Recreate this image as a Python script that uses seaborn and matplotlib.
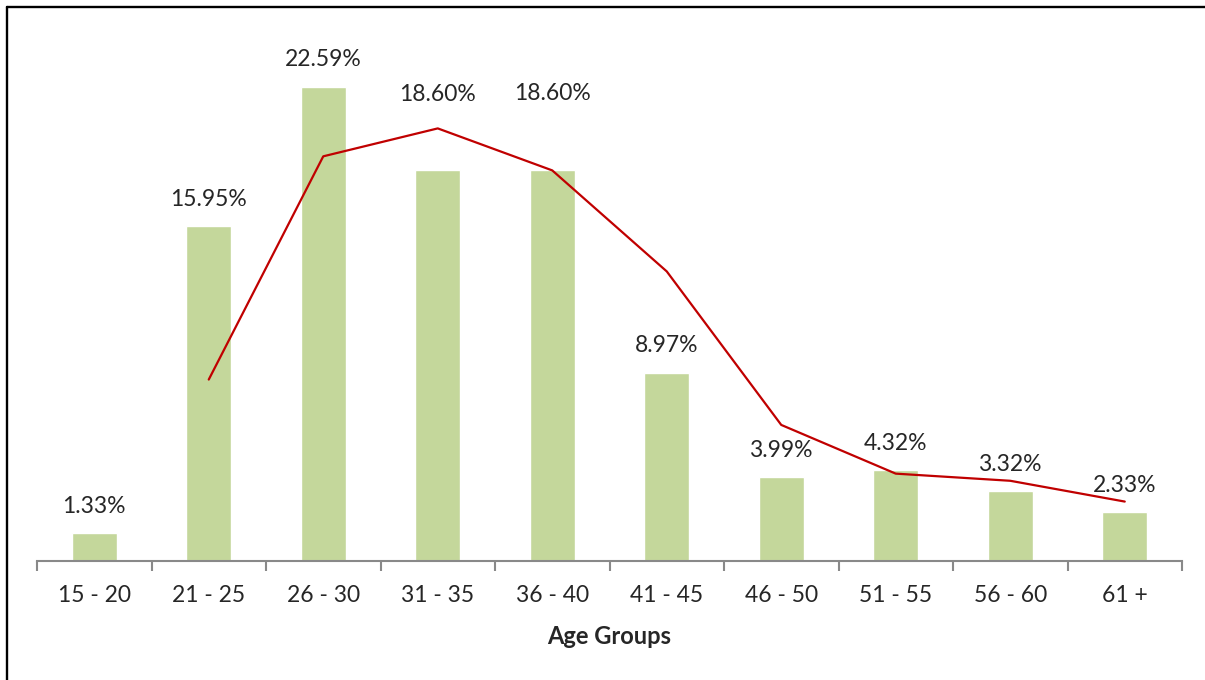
import seaborn as sns
import numpy as np
import matplotlib
matplotlib.use('Agg')
import matplotlib.pyplot as plt
from matplotlib.lines import Line2D

# data
age_groups = ['15 - 20', '21 - 25', '26 - 30', '31 - 35', '36 - 40',
              '41 - 45', '46 - 50', '51 - 55', '56 - 60', '61 +']
share = [1.33, 15.95, 22.59, 18.60, 18.60, 8.97, 3.99, 4.32, 3.32, 2.33]
# red trend line (2 period moving average)
trend = [8.64, 19.27, 20.60, 18.60, 13.79, 6.48, 4.16, 3.82, 2.83]

sns.set_style('white')
plt.rcParams['font.family'] = ['Lato', 'DejaVu Sans']

fig = plt.figure(figsize=(12.05, 6.8), dpi=100)
ax = fig.add_axes([37/1205, 119/680, 1145/1205, 523/680])

sns.barplot(x=np.arange(len(share)), y=share, color='#C4D79B', saturation=1,
            width=0.39, ax=ax, native_scale=True)
sns.lineplot(x=np.arange(1, len(share)), y=trend, color='#C00000', lw=1.6, ax=ax)

# labels above bars; the two 18.60% labels sit higher to clear the line
extra = {3: 49, 4: 50}
for i, v in enumerate(share):
    ax.annotate(f'{v:.2f}%', (i, v), xytext=(0, 27 + extra.get(i, 0)),
                textcoords='offset pixels', ha='center', va='center', fontsize=16.5)

ax.set_xlim(-0.5, len(share) - 0.5)
ax.set_ylim(0, 523/21)
ax.set_yticks([])
ax.set_xticks(np.arange(len(share)))
ax.set_xticklabels(age_groups, fontsize=16.5)
ax.set_xticks(np.arange(-0.5, len(share)), minor=True)
ax.tick_params(axis='x', which='major', bottom=True, length=0, pad=17)
ax.tick_params(axis='x', which='minor', bottom=True, length=7.5, width=1.5,
               color='#898989', direction='out')
ax.set_xlabel('Age Groups', fontsize=17, fontweight='bold', labelpad=14)
ax.set_ylabel(None)
sns.despine(ax=ax, left=True)
ax.spines['bottom'].set_color('#898989')
ax.spines['bottom'].set_linewidth(1.5)

# outer frame, only the left and top edges are visible
fig.add_artist(Line2D([7/1205, 7/1205], [0, 1 - 7/680], transform=fig.transFigure, color='black', lw=1.7))
fig.add_artist(Line2D([7/1205, 1], [1 - 7/680, 1 - 7/680], transform=fig.transFigure, color='black', lw=1.7))

fig.savefig('out.png', dpi=100)
